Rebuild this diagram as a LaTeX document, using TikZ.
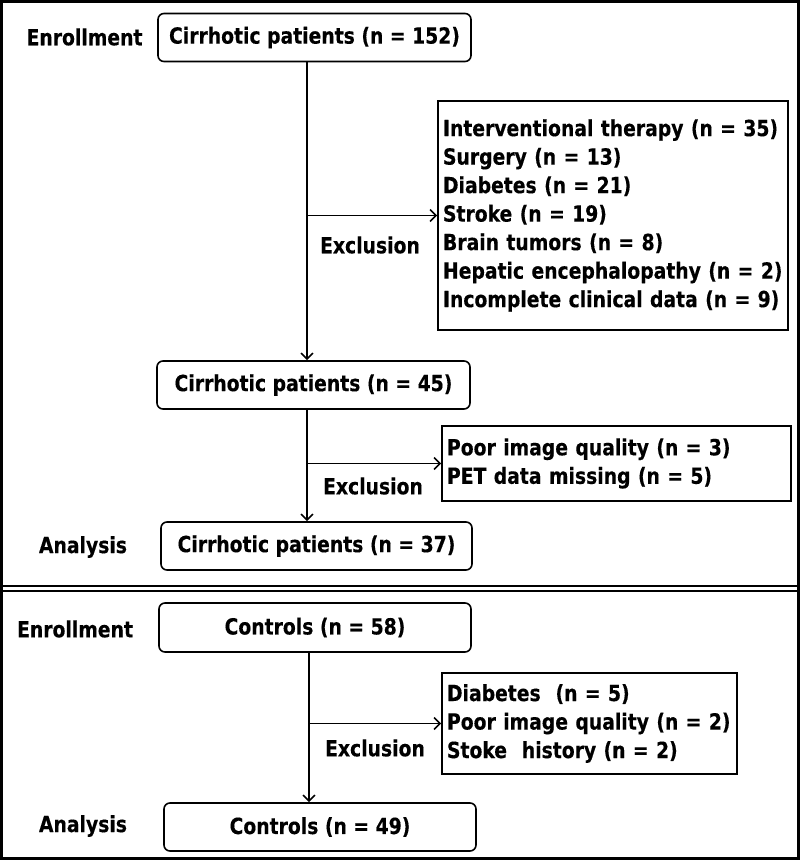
\documentclass[tikz,border=0pt]{standalone}
\usepackage{fontspec}
\setmainfont{DejaVu Sans Condensed}[BoldFeatures={FakeStretch=0.94,FakeBold=0.3}]
\usetikzlibrary{arrows.meta}
\begin{document}
\begin{tikzpicture}[x=1pt,y=-1pt,
    font=\fontsize{22.2}{28.5}\selectfont\bfseries,
    line width=1.6pt,
    patbox/.style={draw,rounded corners=6pt,minimum height=48,inner sep=0pt},
    exbox/.style={draw,align=left,inner xsep=5pt,inner ysep=0pt},
    arr/.style={-{Straight Barb[length=6pt,width=12pt]}}]
      \useasboundingbox (0,0) rectangle (800,860);
      \draw[line width=3pt] (1.5,1.5) rectangle (798.5,858.5);
      \draw[line width=1.2pt] (0,586) -- (800,586) (0,591) -- (800,591);
      \draw
        (84.5,37) node (enrA){Enrollment}
        (314.5,37.5) node[patbox,minimum width=313] (patA){Cirrhotic patients (n = 152)}
        (613,215.5) node[exbox,text width=340,minimum height=229] (exA){Interventional therapy (n = 35)\\
          Surgery (n = 13)\\
          Diabetes (n = 21)\\
          Stroke (n = 19)\\
          Brain tumors (n = 8)\\
          Hepatic encephalopathy (n = 2)\\
          Incomplete clinical data (n = 9)}
        (370,245) node (xlA){Exclusion}
        (313.5,385) node[patbox,minimum width=313] (patB){Cirrhotic patients (n = 45)}
        (616.5,463.5) node[exbox,text width=339,minimum height=75] (exB){Poor image quality (n = 3)\\
          PET data missing (n = 5)}
        (373,486) node (xlB){Exclusion}
        (83,547) node (anaA){Analysis}
        (316.5,546) node[patbox,minimum width=311] (patC){Cirrhotic patients (n = 37)}
        (75,629) node (enrB){Enrollment}
        (315,627.5) node[patbox,minimum width=312,minimum height=49] (ctlA){Controls (n = 58)}
        (589.5,723.5) node[exbox,text width=285,minimum height=101] (exC){Diabetes~ (n = 5)\\
          Poor image quality (n = 2)\\
          Stoke~ history (n = 2)}
        (375,748) node (xlC){Exclusion}
        (83,826) node (anaB){Analysis}
        (320,827) node[patbox,minimum width=312] (ctlB){Controls (n = 49)};
      \coordinate (tA) at (307,0);
      \coordinate (tB) at (309,0);
      \begin{scope}[arr]
        \draw (patA.south -| tA) to (patB.north -| tA);
        \draw (exA.west -| tA) to (exA.west);
        \draw (patB.south -| tA) to (patC.north -| tA);
        \draw (exB.west -| tA) to (exB.west);
        \draw (ctlA.south -| tB) to (ctlB.north -| tB);
        \draw (exC.west -| tB) to (exC.west);
      \end{scope}
    \end{tikzpicture}
\end{document}
